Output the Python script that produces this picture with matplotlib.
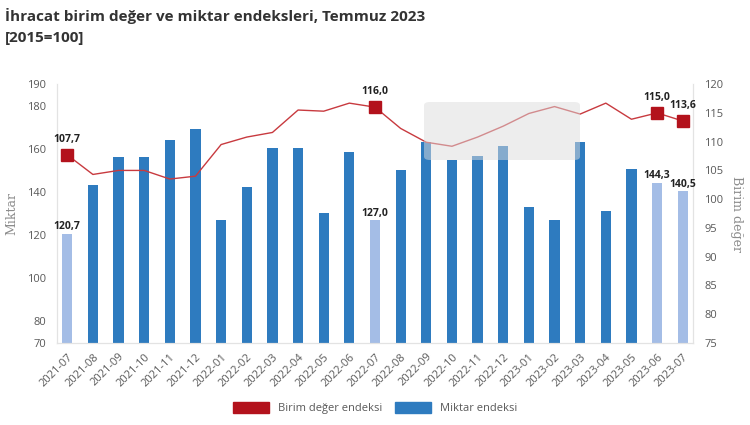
import matplotlib.pyplot as plt
from matplotlib.patches import FancyBboxPatch, Patch

months = ['2021-07', '2021-08', '2021-09', '2021-10', '2021-11', '2021-12',
          '2022-01', '2022-02', '2022-03', '2022-04', '2022-05', '2022-06',
          '2022-07', '2022-08', '2022-09', '2022-10', '2022-11', '2022-12',
          '2023-01', '2023-02', '2023-03', '2023-04', '2023-05', '2023-06',
          '2023-07']
miktar = [120.7, 143.2, 156.2, 156.2, 164.0, 169.0, 127.0, 142.3, 160.4,
          160.4, 130.2, 158.5, 127.0, 150.2, 163.1, 154.8, 156.7, 161.3,
          133.0, 127.0, 163.0, 131.2, 150.6, 144.3, 140.5]
birim = [107.7, 104.3, 105.0, 105.0, 103.5, 104.0, 109.5, 110.8, 111.6,
         115.5, 115.3, 116.7, 116.0, 112.3, 109.9, 109.2, 110.8, 112.7,
         114.9, 116.1, 114.8, 116.7, 113.9, 115.0, 113.6]
highlight = [0, 12, 23, 24]  # months with markers and labels

dark_blue = '#2e7bbf'
light_blue = '#a4bde6'
red = '#b3121c'
line_red = '#c83a3f'
grey = '#595959'

plt.rcParams['font.family'] = ['Open Sans', 'DejaVu Sans']

fig = plt.figure(figsize=(7.5, 4.25), dpi=100)
ax = fig.add_axes([0.076, 0.193, 0.848, 0.609])
ax2 = ax.twinx()

x = list(range(len(months)))
colors = [light_blue if i in highlight else dark_blue for i in x]
ax.bar(x, miktar, width=0.4, color=colors, zorder=2)
ax.set_ylim(70, 190)
ax.set_yticks([70, 80, 100, 120, 140, 160, 180, 190])
ax.set_xlim(-0.4, 24.4)
ax.set_xticks(x)
ax.set_xticklabels(months, rotation=45, ha='right', rotation_mode='anchor',
                   fontsize=8, color=grey)
ax.tick_params(axis='y', length=0, labelsize=8, colors=grey, pad=8)
ax.tick_params(axis='x', length=0, pad=6)
ax.set_ylabel('Miktar', family='DejaVu Serif', fontsize=9, color='#8c8c8c', labelpad=6)

ax2.plot(x, birim, color=line_red, lw=1, zorder=3)
ax2.plot([x[i] for i in highlight], [birim[i] for i in highlight], 's',
         color=red, ms=9, lw=0, zorder=4)
ax2.set_ylim(75, 120)
ax2.set_yticks(range(75, 121, 5))
ax2.tick_params(axis='y', length=0, labelsize=8, colors=grey, pad=8)
ax2.set_ylabel('Birim değer', family='DejaVu Serif', fontsize=9, color='#8c8c8c',
               rotation=270, labelpad=14)

for a in (ax, ax2):
    a.spines['top'].set_visible(False)
    for side in ('left', 'right', 'bottom'):
        a.spines[side].set_color('#e3e3e3')

def fmt(v):
    return f'{v:.1f}'.replace('.', ',')

for i in highlight:
    t = ax2.annotate(fmt(miktar[i]), (x[i], miktar[i]), xycoords=ax.transData,
                     xytext=(0, 1), textcoords='offset points', ha='center',
                     va='bottom', fontsize=7.5, fontweight='bold',
                     color='#222222', zorder=5)
    t.set_clip_on(False)
    t = ax2.annotate(fmt(birim[i]), (x[i], birim[i]), xytext=(0, 7),
                     textcoords='offset points', ha='center', va='bottom',
                     fontsize=7.5, fontweight='bold', color='#222222', zorder=5)
    t.set_clip_on(False)

# faint tooltip box left in the screenshot
fig.patches.append(FancyBboxPatch((424 / 750, 1 - 160 / 425), 156 / 750, 58 / 425,
                                  boxstyle='round,pad=0,rounding_size=0.008',
                                  transform=fig.transFigure, facecolor='#dcdcdc',
                                  edgecolor='none', alpha=0.5, zorder=10))

fig.text(0.007, 0.962, 'İhracat birim değer ve miktar endeksleri, Temmuz 2023',
         fontsize=11, fontweight='bold', color='#333333', va='center')
fig.text(0.007, 0.91, '[2015=100]', fontsize=11, fontweight='bold',
         color='#333333', va='center')

handles = [Patch(color=red), Patch(color=dark_blue)]
fig.legend(handles, ['Birim değer endeksi', 'Miktar endeksi'], loc='center',
           bbox_to_anchor=(0.5, 0.04), ncol=2, frameon=False, fontsize=8,
           handlelength=3.2, handleheight=1.1, columnspacing=1.2,
           labelcolor=grey)

fig.savefig('out.png', dpi=100)
